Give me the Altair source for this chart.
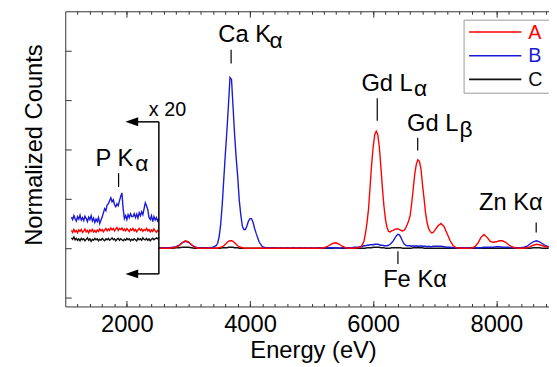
import altair as alt
import pandas as pd

FONT = "Liberation Sans"
series = ["A", "B", "C"]
colors = ["#ff0000", "#1a1ad6", "#111111"]

# ---------- inset (x 20) region ----------
inset_energy = [
    1100, 1120, 1140, 1160, 1180, 1200, 1220, 1240, 1260, 1280,
    1300, 1320, 1340, 1360, 1380, 1400, 1420, 1440, 1460, 1480,
    1500, 1520, 1540, 1560, 1580, 1600, 1620, 1640, 1660, 1680,
    1700, 1720, 1740, 1760, 1780, 1800, 1820, 1840, 1860, 1880,
    1900, 1920, 1940, 1960, 1980, 2000, 2020, 2040, 2060, 2080,
    2100, 2120, 2140, 2160, 2180, 2200, 2220, 2240, 2260, 2280,
    2300, 2320, 2340, 2360, 2380, 2400, 2420, 2440, 2460, 2480,
    2500, 2520]
inset_A = [
    0.36, 0.32, 0.38, 0.33, 0.36, 0.31, 0.37, 0.34, 0.38, 0.32,
    0.35, 0.39, 0.33, 0.36, 0.31, 0.37, 0.34, 0.38, 0.33, 0.36,
    0.32, 0.37, 0.34, 0.39, 0.35, 0.38, 0.33, 0.37, 0.40, 0.35,
    0.39, 0.36, 0.41, 0.37, 0.40, 0.35, 0.39, 0.42, 0.36, 0.40,
    0.38, 0.41, 0.36, 0.39, 0.35, 0.40, 0.37, 0.34, 0.39, 0.36,
    0.40, 0.35, 0.38, 0.33, 0.37, 0.40, 0.36, 0.39, 0.34, 0.38,
    0.36, 0.40, 0.35, 0.38, 0.33, 0.37, 0.34, 0.39, 0.35, 0.32,
    0.36, 0.33]
inset_B = [
    0.63, 0.58, 0.66, 0.60, 0.55, 0.64, 0.59, 0.67, 0.57, 0.62,
    0.56, 0.65, 0.60, 0.54, 0.63, 0.58, 0.66, 0.55, 0.61, 0.52,
    0.59, 0.54, 0.62, 0.50, 0.57, 0.63, 0.72, 0.80, 0.76, 0.88,
    0.90, 0.96, 1.02, 0.94, 0.98, 0.88, 0.84, 0.90, 0.86, 0.96,
    1.05, 1.12, 0.80, 0.60, 0.66, 0.58, 0.68, 0.62, 0.70, 0.64,
    0.64, 0.70, 0.62, 0.69, 0.61, 0.72, 0.66, 0.74, 0.68, 0.80,
    0.92, 0.86, 0.78, 0.62, 0.58, 0.66, 0.54, 0.64, 0.57, 0.62,
    0.55, 0.60]
inset_C = [
    0.21, 0.18, 0.23, 0.17, 0.20, 0.16, 0.19, 0.15, 0.20, 0.17,
    0.19, 0.15, 0.18, 0.21, 0.16, 0.19, 0.14, 0.18, 0.16, 0.20,
    0.17, 0.19, 0.15, 0.18, 0.16, 0.20, 0.17, 0.15, 0.19, 0.17,
    0.20, 0.16, 0.18, 0.21, 0.17, 0.19, 0.15, 0.18, 0.20, 0.16,
    0.19, 0.17, 0.15, 0.18, 0.16, 0.20, 0.17, 0.19, 0.15, 0.18,
    0.16, 0.19, 0.17, 0.15, 0.20, 0.17, 0.19, 0.16, 0.21, 0.18,
    0.17, 0.20, 0.16, 0.19, 0.15, 0.18, 0.20, 0.17, 0.19, 0.21,
    0.19, 0.22]

# ---------- main spectrum ----------
main_energy = [
    2520, 2550, 2600, 2650, 2700, 2750, 2800, 2850, 2900, 2950,
    3000, 3050, 3100, 3150, 3200, 3250, 3300, 3350, 3400, 3450,
    3475, 3500, 3525, 3550, 3575, 3600, 3625, 3650, 3675, 3700,
    3725, 3750, 3775, 3800, 3825, 3850, 3875, 3900, 3925, 3950,
    3975, 4000, 4025, 4050, 4075, 4100, 4150, 4200, 4250, 4300,
    4350, 4400, 4450, 4500, 4550, 4600, 4650, 4700, 4750, 4800,
    4850, 4900, 4950, 5000, 5050, 5100, 5150, 5200, 5250, 5300,
    5350, 5400, 5450, 5500, 5550, 5600, 5650, 5700, 5750, 5800,
    5825, 5850, 5875, 5900, 5925, 5950, 5975, 6000, 6025, 6050,
    6075, 6100, 6125, 6150, 6175, 6200, 6225, 6250, 6275, 6300,
    6325, 6350, 6375, 6400, 6425, 6450, 6475, 6500, 6525, 6550,
    6575, 6600, 6625, 6650, 6675, 6700, 6725, 6750, 6775, 6800,
    6825, 6850, 6875, 6900, 6925, 6950, 6975, 7000, 7050, 7100,
    7150, 7200, 7250, 7300, 7350, 7400, 7450, 7500, 7550, 7600,
    7650, 7700, 7750, 7800, 7850, 7900, 7950, 8000, 8050, 8100,
    8150, 8200, 8250, 8300, 8350, 8400, 8450, 8500, 8550, 8600,
    8650, 8700, 8750, 8800, 8850]
main_A = [
    0.00, 0.00, 0.00, 0.00, 0.00, 0.01, 0.02, 0.05, 0.11, 0.15,
    0.13, 0.07, 0.02, 0.00, 0.00, 0.00, 0.00, 0.00, 0.00, 0.00,
    0.00, 0.01, 0.02, 0.03, 0.05, 0.08, 0.11, 0.14, 0.15, 0.15,
    0.14, 0.11, 0.08, 0.05, 0.03, 0.02, 0.01, 0.00, 0.00, 0.00,
    0.00, 0.00, 0.00, 0.00, 0.00, 0.00, 0.00, 0.00, 0.00, 0.00,
    0.00, 0.00, 0.00, 0.00, 0.00, 0.00, 0.00, 0.00, 0.00, 0.00,
    0.00, 0.00, 0.00, 0.00, 0.00, 0.00, 0.00, 0.01, 0.03, 0.07,
    0.10, 0.11, 0.08, 0.04, 0.01, 0.00, 0.00, 0.00, 0.01, 0.03,
    0.07, 0.14, 0.30, 0.52, 0.80, 1.25, 1.70, 2.05, 2.30, 2.37,
    2.30, 2.05, 1.65, 1.22, 0.85, 0.58, 0.42, 0.34, 0.33, 0.35,
    0.36, 0.38, 0.39, 0.39, 0.38, 0.36, 0.35, 0.36, 0.40, 0.47,
    0.55, 0.66, 0.90, 1.20, 1.50, 1.70, 1.79, 1.76, 1.62, 1.30,
    1.02, 0.72, 0.52, 0.40, 0.34, 0.31, 0.32, 0.36, 0.45, 0.50,
    0.44, 0.30, 0.15, 0.05, 0.01, 0.00, 0.00, 0.00, 0.00, 0.00,
    0.03, 0.10, 0.22, 0.28, 0.22, 0.14, 0.12, 0.13, 0.15, 0.15,
    0.12, 0.07, 0.03, 0.01, 0.00, 0.00, 0.00, 0.01, 0.03, 0.06,
    0.08, 0.07, 0.05, 0.03, 0.02]
main_B = [
    0.01, 0.01, 0.01, 0.01, 0.01, 0.02, 0.03, 0.06, 0.11, 0.14,
    0.12, 0.07, 0.03, 0.01, 0.01, 0.01, 0.01, 0.01, 0.02, 0.05,
    0.10, 0.24, 0.50, 0.90, 1.42, 1.92, 2.38, 2.90, 3.46, 3.42,
    2.85, 2.30, 1.84, 1.45, 0.98, 0.68, 0.45, 0.38, 0.38, 0.45,
    0.55, 0.60, 0.60, 0.52, 0.40, 0.30, 0.12, 0.03, 0.01, 0.01,
    0.01, 0.01, 0.00, 0.01, 0.00, 0.01, 0.00, 0.01, 0.00, 0.01,
    0.00, 0.01, 0.00, 0.01, 0.00, 0.01, 0.01, 0.00, 0.01, 0.01,
    0.01, 0.01, 0.00, 0.01, 0.01, 0.01, 0.01, 0.02, 0.02, 0.03,
    0.04, 0.05, 0.05, 0.06, 0.06, 0.07, 0.07, 0.07, 0.08, 0.08,
    0.08, 0.07, 0.06, 0.06, 0.05, 0.05, 0.05, 0.06, 0.08, 0.11,
    0.15, 0.20, 0.25, 0.28, 0.27, 0.22, 0.15, 0.09, 0.06, 0.05,
    0.05, 0.05, 0.04, 0.05, 0.04, 0.05, 0.04, 0.04, 0.05, 0.04,
    0.04, 0.04, 0.03, 0.04, 0.03, 0.03, 0.04, 0.04, 0.04, 0.04,
    0.03, 0.02, 0.02, 0.01, 0.01, 0.01, 0.01, 0.01, 0.01, 0.01,
    0.01, 0.01, 0.01, 0.02, 0.02, 0.02, 0.02, 0.03, 0.03, 0.02,
    0.02, 0.02, 0.01, 0.01, 0.01, 0.01, 0.02, 0.04, 0.09, 0.13,
    0.15, 0.13, 0.09, 0.05, 0.03]
main_C = [
    0.00, 0.00, 0.00, 0.00, 0.00, 0.00, 0.01, 0.01, 0.02, 0.02,
    0.02, 0.01, 0.00, 0.00, 0.00, 0.00, 0.00, 0.00, 0.00, 0.00,
    0.00, 0.00, 0.00, 0.01, 0.01, 0.01, 0.01, 0.02, 0.02, 0.02,
    0.02, 0.01, 0.01, 0.01, 0.00, 0.00, 0.00, 0.00, 0.00, 0.00,
    0.00, 0.00, 0.00, 0.00, 0.00, 0.00, 0.00, 0.00, 0.00, 0.00,
    0.00, 0.00, 0.00, 0.00, 0.00, 0.00, 0.00, 0.00, 0.00, 0.00,
    0.00, 0.00, 0.00, 0.00, 0.00, 0.00, 0.00, 0.00, 0.00, 0.00,
    0.00, 0.01, 0.00, 0.00, 0.00, 0.00, 0.00, 0.00, 0.00, 0.00,
    0.00, 0.00, 0.00, 0.01, 0.01, 0.01, 0.01, 0.02, 0.02, 0.02,
    0.02, 0.02, 0.01, 0.01, 0.01, 0.00, 0.00, 0.00, 0.00, 0.01,
    0.01, 0.01, 0.01, 0.01, 0.01, 0.01, 0.00, 0.00, 0.00, 0.00,
    0.00, 0.00, 0.00, 0.01, 0.01, 0.01, 0.01, 0.01, 0.01, 0.01,
    0.00, 0.00, 0.00, 0.00, 0.00, 0.00, 0.00, 0.00, 0.00, 0.00,
    0.00, 0.00, 0.00, 0.00, 0.00, 0.00, 0.00, 0.00, 0.00, 0.00,
    0.00, 0.00, 0.00, 0.00, 0.00, 0.00, 0.00, 0.00, 0.00, 0.00,
    0.00, 0.00, 0.00, 0.00, 0.00, 0.00, 0.00, 0.00, 0.00, 0.01,
    0.01, 0.01, 0.00, 0.00, 0.00]

# ---------- annotations ----------
label_text = ["P K", "Ca K", "Gd L", "Gd L", "Zn K\u03b1", "Fe K\u03b1"]
label_energy = [1492, 3485, 5809, 6551, 7717, 6162]
label_value = [1.66, 4.17, 3.19, 2.37, 0.78, -0.78]
sub_text = ["\u03b1", "\u03b1", "\u03b1", "\u03b2"]
sub_energy = [2135, 4318, 6662, 7400]
sub_value = [1.56, 4.05, 3.08, 2.26]
mark_energy = [1866, 3693, 6066, 6723, 8647, 6402]
mark_top = [1.52, 4.02, 3.04, 2.24, 0.52, -0.06]
mark_bottom = [1.24, 3.74, 2.58, 1.98, 0.32, -0.32]

# bracket around the x20 region
bracket_energy = 2520
bracket_top = 2.56
bracket_bottom = -0.52
arrow_energy = 2080
scale_text = "x 20"

major_ticks = [2000, 4000, 6000, 8000]
minor_ticks = list(range(1200, 8801, 200))
y_ticks = [-1, 0, 1, 2, 3, 4]

# ---------- tables ----------
rows = []
for s, ins, mn in [("C", inset_C, main_C), ("B", inset_B, main_B), ("A", inset_A, main_A)]:
    rows.append(pd.DataFrame({"energy": inset_energy, "value": ins, "series": s, "segment": "inset"}))
    rows.append(pd.DataFrame({"energy": main_energy, "value": mn, "series": s, "segment": "main"}))
df = pd.concat(rows, ignore_index=True)

labels_df = pd.DataFrame({"text": label_text, "energy": label_energy, "value": label_value})
subs_df = pd.DataFrame({"text": sub_text, "energy": sub_energy, "value": sub_value})
marks_df = pd.DataFrame({"energy": mark_energy, "top": mark_top, "bottom": mark_bottom})
vert_df = pd.DataFrame({"energy": [bracket_energy], "top": [bracket_top], "bottom": [bracket_bottom]})
horiz_df = pd.DataFrame({"start": [arrow_energy, arrow_energy], "end": [bracket_energy, bracket_energy],
                         "value": [bracket_top, bracket_bottom]})
scale_df = pd.DataFrame({"text": [scale_text], "energy": [2660], "value": [2.68]})

legend_df = pd.DataFrame({"series": series, "row": [0, 1, 2]})
legend_df["y"] = 4.38 - 0.48 * legend_df["row"]
legend_df["ly"] = legend_df["y"] - 0.135
legend_df["x1"] = 7557
legend_df["x2"] = 8406
legend_df["lx"] = 8518
legend_box = pd.DataFrame({"x1": [7476], "x2": [8950], "y1": [4.62], "y2": [3.14]})

one = pd.DataFrame({"energy": [2000]})

xs = alt.Scale(domain=[1000, 8855], nice=False, zero=False)
ys = alt.Scale(domain=[-1.18, 4.8], nice=False, zero=False)
cs = alt.Scale(domain=series, range=colors)
FRAME = "#333333"

spectra = alt.Chart(df).mark_line(strokeWidth=1.4, clip=True).encode(
    x=alt.X("energy:Q", scale=xs, axis=alt.Axis(
        orient="bottom", values=major_ticks, format="d", tickSize=6, offset=-6,
        domain=False, grid=False, tickColor=FRAME, labelFontSize=24, labelFont=FONT,
        labelColor="black", labelPadding=6, title="Energy (eV)", titleFont=FONT,
        titleFontSize=24, titleFontWeight="normal", titleColor="black",
        titleX=251, titleY=58, titleBaseline="alphabetic")),
    y=alt.Y("value:Q", scale=ys, axis=alt.Axis(
        orient="left", values=y_ticks, labels=False, tickSize=6, offset=-6,
        domain=False, grid=False, tickColor=FRAME, title="Normalized Counts",
        titleFont=FONT, titleFontSize=24, titleFontWeight="normal", titleColor="black",
        titleX=-30, titleY=135, titleBaseline="alphabetic", titleAngle=270)),
    color=alt.Color("series:N", scale=cs, legend=None),
    detail="segment:N",
)

def xaxis_layer(**kw):
    return alt.Chart(one).mark_point(opacity=0).encode(
        x=alt.X("energy:Q", scale=xs, axis=alt.Axis(grid=False, labels=False, title=None,
                                                    tickColor=FRAME, domainColor=FRAME, **kw)))

bottom_minor = xaxis_layer(orient="bottom", values=minor_ticks, tickSize=3, offset=-3, domain=False)
top_major = xaxis_layer(orient="top", values=major_ticks, tickSize=6, offset=-6, domain=False)
top_minor = xaxis_layer(orient="top", values=minor_ticks, tickSize=3, offset=-3, domain=False)
top_domain = xaxis_layer(orient="top", ticks=False, domain=True, domainWidth=1)
frame = alt.Chart(pd.DataFrame({"energy": [2000], "value": [0]})).mark_point(opacity=0).encode(
    x=alt.X("energy:Q", scale=xs, axis=alt.Axis(orient="bottom", grid=False, labels=False,
                                                ticks=False, title=None, domainColor=FRAME)),
    y=alt.Y("value:Q", scale=ys, axis=alt.Axis(orient="left", grid=False, labels=False,
                                               ticks=False, title=None, domainColor=FRAME)),
)

NX = dict(axis=None)
labels = alt.Chart(labels_df).mark_text(align="left", baseline="alphabetic", font=FONT,
                                        fontSize=24, color="black").encode(
    x=alt.X("energy:Q", scale=xs, **NX), y=alt.Y("value:Q", scale=ys, **NX), text="text:N")
subs = alt.Chart(subs_df).mark_text(align="left", baseline="alphabetic", font=FONT,
                                    fontSize=23, color="black").encode(
    x=alt.X("energy:Q", scale=xs, **NX), y=alt.Y("value:Q", scale=ys, **NX), text="text:N")
peak_marks = alt.Chart(marks_df).mark_rule(color="black", strokeWidth=1.2).encode(
    x=alt.X("energy:Q", scale=xs, **NX), y=alt.Y("top:Q", scale=ys, **NX), y2="bottom:Q")
vert = alt.Chart(vert_df).mark_rule(color="black", strokeWidth=1.5).encode(
    x=alt.X("energy:Q", scale=xs, **NX), y=alt.Y("top:Q", scale=ys, **NX), y2="bottom:Q")
horiz = alt.Chart(horiz_df).mark_rule(color="black", strokeWidth=1.5).encode(
    x=alt.X("start:Q", scale=xs, **NX), x2="end:Q", y=alt.Y("value:Q", scale=ys, **NX))
heads = alt.Chart(horiz_df).mark_point(shape="M -1 0 L 1 -0.7 L 1 0.7 Z", filled=True, size=169,
                                       color="black", opacity=1).encode(
    x=alt.X("start:Q", scale=xs, **NX), y=alt.Y("value:Q", scale=ys, **NX))
scale_lbl = alt.Chart(scale_df).mark_text(align="center", baseline="alphabetic", font=FONT,
                                          fontSize=20, color="black").encode(
    x=alt.X("energy:Q", scale=xs, **NX), y=alt.Y("value:Q", scale=ys, **NX), text="text:N")

leg_box = alt.Chart(legend_box).mark_rect(fill="white", stroke="#999999", strokeWidth=1,
                                          clip=True).encode(
    x=alt.X("x1:Q", scale=xs, **NX), x2="x2:Q", y=alt.Y("y1:Q", scale=ys, **NX), y2="y2:Q")
leg_lines = alt.Chart(legend_df).mark_rule(strokeWidth=1.6).encode(
    x=alt.X("x1:Q", scale=xs, **NX), x2="x2:Q", y=alt.Y("y:Q", scale=ys, **NX),
    color=alt.Color("series:N", scale=cs, legend=None))
leg_text = alt.Chart(legend_df).mark_text(align="left", baseline="alphabetic", font=FONT,
                                          fontSize=20).encode(
    x=alt.X("lx:Q", scale=xs, **NX), y=alt.Y("ly:Q", scale=ys, **NX), text="series:N",
    color=alt.Color("series:N", scale=cs, legend=None))

chart = alt.layer(
    frame, top_domain, bottom_minor, top_major, top_minor,
    spectra, peak_marks, labels, subs, vert, horiz, heads, scale_lbl,
    leg_box, leg_lines, leg_text,
).resolve_axis(x="independent", y="independent").properties(
    width=490, height=299,
    autosize=alt.AutoSizeParams(type="none"),
    padding={"left": 58, "top": 1, "right": 0, "bottom": 58},
).configure_view(stroke=None)

chart.save("out.html", embed_options={"renderer": "svg", "actions": False})
